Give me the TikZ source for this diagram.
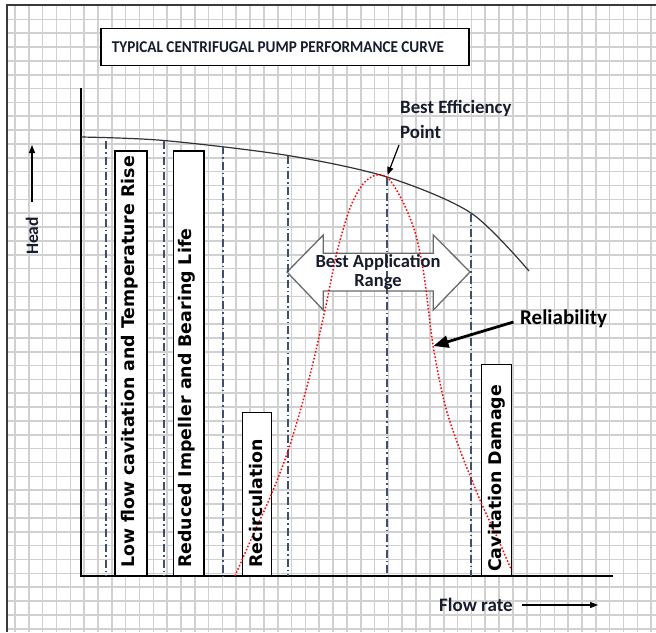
\documentclass[tikz,border=0pt]{standalone}
\usepackage{fontspec}
\setmainfont{Carlito}
\newfontfamily\barfont{DejaVu Sans}
\usetikzlibrary{arrows.meta}
\definecolor{gridc}{HTML}{D0D0D0}
\definecolor{framec}{HTML}{3A3A3A}
\definecolor{ddc}{HTML}{3E5070}
\definecolor{txt}{HTML}{161C2C}
\definecolor{arrgray}{HTML}{6A6A6A}
\begin{document}
\begin{tikzpicture}[x=1pt,y=-1pt,
  gridline/.style={draw=gridc,line width=1.6pt},
  framel/.style={draw=framec,line width=1.5pt},
  axisline/.style={draw=black,line width=1.2pt},
  headc/.style={draw=black!80,line width=1.2pt},
  dd/.style={draw=ddc,line width=1.2pt,dash pattern=on 8pt off 3pt on 1.5pt off 3pt},
  barbox/.style={draw=black,fill=white,line width=1.2pt,inner sep=0pt},
  bartext/.style={font=\barfont\bfseries\fontsize{17.4}{20}\selectfont,text=black,rotate=90,anchor=west,inner sep=0pt},
  lbl/.style={font=\bfseries\fontsize{17}{20}\selectfont,text=txt,inner sep=0pt},
  relc/.style={draw=red,line width=1.5pt,dash pattern=on 1.5pt off 2pt},
  blockarrow/.style={draw=arrgray,fill=white,line width=1.3pt,line join=miter},
  thinarrow/.style={draw=black,line width=1.2pt,-{Triangle[length=8pt,width=6pt]}},
  thickarrow/.style={draw=black,line width=2.8pt,-{Triangle[length=15pt,width=12pt]}}
]
\useasboundingbox (0,0) rectangle (656,632);
\fill[white] (0,0) rectangle (656,632);
% grid
\foreach \i in {0,...,46} \draw[gridline] ({15+13.83*\i},5) -- ({15+13.83*\i},632);
\foreach \j in {0,...,44} \draw[gridline] (7,{19.3+13.85*\j}) -- (656,{19.3+13.85*\j});
% frame
\draw[framel] (7,632) -- (7,5) -- (656,5);
% title
\node[draw=black,fill=white,line width=1.2pt,minimum width=368pt,minimum height=37pt,inner sep=0pt] (titlebox) at (285,47) {};
\node[font=\bfseries\fontsize{16.5}{18}\selectfont,text=txt,inner sep=0pt,xscale=0.92] (title) at (278,47) {TYPICAL CENTRIFUGAL PUMP PERFORMANCE CURVE};
% block arrow
\draw[blockarrow] (287,272) -- (323.3,235) -- (323.3,253.3) -- (433.3,253.3) -- (433.3,235) -- (470,272) -- (433.3,310) -- (433.3,291) -- (323.3,291) -- (323.3,310) -- cycle;
% bars
\node[barbox,minimum width=32pt,minimum height=425pt] (bar1) at (131,363.5) {};
\node[barbox,minimum width=30.3pt,minimum height=425pt] (bar2) at (188.9,363.5) {};
\node[barbox,minimum width=29pt,minimum height=163.3pt] (bar3) at (257.2,494.35) {};
\node[barbox,minimum width=30pt,minimum height=211.5pt] (bar4) at (496.5,470.25) {};
% axes
\coordinate (ytop) at (81,88);
\coordinate (orig) at (81,576);
\coordinate (xend) at (613,576);
\draw[axisline] (ytop) -- (orig) -- (xend);
% head curve
\draw[headc] plot[smooth,tension=0.5] coordinates {(81,137) (164,140.5) (288,155.5) (387,177) (471,213) (529,271)};
% dash-dot lines
\foreach \x/\t in {106/141,164/141,223/146,288/155.5,387/177.5,471/213.5}
  \draw[dd] (\x,\t) -- (\x,576);
% reliability curve
\draw[relc] plot[smooth,tension=0.5] coordinates {(235,576) (253,535) (272,493) (290,445) (310,375) (325,310) (337,252) (350,208) (363,184) (376,175) (388,178) (402,200) (415,232) (424,275) (433,345) (445,405) (460,450) (480,500) (497,537) (511,569)};
% bar texts
\node[bartext] (t1) at (129.5,568) {Low flow cavitation and Temperature Rise};
\node[bartext] (t2) at (187.2,568) {Reduced Impeller and Bearing Life};
\node[bartext] (t3) at (256.5,568) {Recirculation};
\node[bartext] (t4) at (497,572) {Cavitation Damage};
% labels
\node[lbl,align=left,anchor=west,font=\bfseries\fontsize{18.8}{25}\selectfont] (bep) at (400,119.5) {Best Efficiency\\Point};
\coordinate (bepstart) at (399,145);
\coordinate (beppt) at (387.5,175);
\draw[thinarrow] (bepstart) -- (beppt);
\node[lbl,align=center,font=\bfseries\fontsize{18.5}{19}\selectfont] (bar) at (378,272) {Best Application\\Range};
\node[lbl,anchor=west,text=black,font=\bfseries\fontsize{21}{22}\selectfont] (rel) at (520,319) {Reliability};
\coordinate (relstart) at (513.5,322);
\coordinate (relpt) at (433.5,346);
\draw[thickarrow] (relstart) -- (relpt);
\node[lbl,rotate=90,font=\bfseries\fontsize{17.5}{20}\selectfont] (head) at (32,236) {Head};
\coordinate (hs) at (32,202);
\coordinate (he) at (32,145);
\draw[thinarrow] (hs) -- (he);
\node[lbl,anchor=west,font=\bfseries\fontsize{19}{20}\selectfont] (flow) at (439,605) {Flow rate};
\coordinate (fs) at (522,605);
\coordinate (fe) at (598,605);
\draw[thinarrow] (fs) -- (fe);
\end{tikzpicture}
\end{document}
